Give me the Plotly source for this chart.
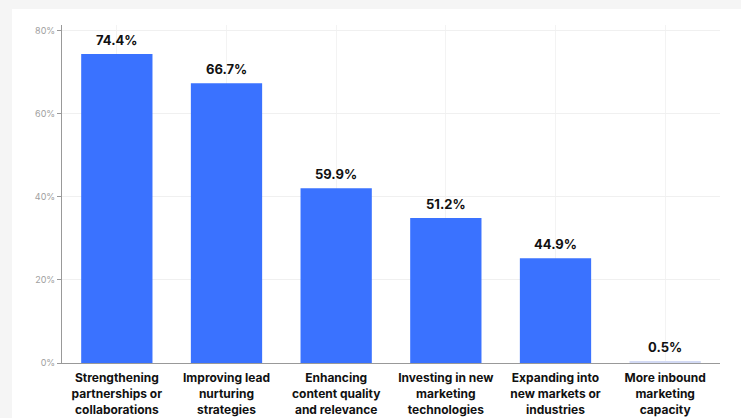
import plotly.graph_objects as go

categories = [
    "Strengthening<br>partnerships or<br>collaborations",
    "Improving lead<br>nurturing<br>strategies",
    "Enhancing<br>content quality<br>and relevance",
    "Investing in new<br>marketing<br>technologies",
    "Expanding into<br>new markets or<br>industries",
    "More inbound<br>marketing<br>capacity",
]
bar_values = [74.4, 67.4, 42.1, 34.9, 25.2, 0.5]
value_labels = ["74.4%", "66.7%", "59.9%", "51.2%", "44.9%", "0.5%"]
bar_colors = ["#3A72FF", "#3A72FF", "#3A72FF", "#3A72FF", "#3A72FF", "#D3DAF4"]
y_ticks = [0, 20, 40, 60, 80]
y_tick_labels = ["0%", "20%", "40%", "60%", "80%"]

W, H = 741, 418
ml, mr, mt, mb = 62, 21, 25, 55
pw, ph = W - ml - mr, H - mt - mb

fig = go.Figure()
fig.add_trace(go.Bar(
    x=categories, y=bar_values,
    marker=dict(color=bar_colors, line=dict(width=0)),
    hoverinfo="skip",
))

for c, v, t in zip(categories, bar_values, value_labels):
    fig.add_annotation(
        x=c, y=v, text="<b>" + t + "</b>", showarrow=False,
        yanchor="bottom", yshift=4,
        font=dict(family="Inter, Roboto, sans-serif", size=13, color="#111111"),
    )

# light grey page edges around the white card (left and top strips)
GREY = "#F5F5F5"
fig.add_shape(
    type="rect", xref="paper", yref="paper", layer="below",
    x0=(-5 - ml) / pw, x1=(12 - ml) / pw,
    y0=(H - mb - (H + 5)) / ph, y1=(H - mb + 5) / ph,
    fillcolor=GREY, line=dict(width=0),
)
fig.add_shape(
    type="rect", xref="paper", yref="paper", layer="below",
    x0=(-5 - ml) / pw, x1=(W + 5 - ml) / pw,
    y0=(H - mb - 9) / ph, y1=(H - mb + 5) / ph,
    fillcolor=GREY, line=dict(width=0),
)

fig.update_layout(
    width=W, height=H,
    margin=dict(l=ml, r=mr, t=mt, b=mb, autoexpand=False),
    paper_bgcolor="white",
    plot_bgcolor="rgba(0,0,0,0)",
    bargap=0.35,
    showlegend=False,
    font=dict(family="Inter, Roboto, sans-serif"),
)
fig.update_xaxes(
    automargin=False,
    showgrid=True, gridcolor="#F3F3F3", gridwidth=1,
    showline=True, linecolor="#999999", linewidth=1,
    ticks="", tickfont=dict(size=12, color="#111111", weight="bold"),
    ticklabelstandoff=4,
)
fig.update_yaxes(
    automargin=False,
    range=[0, 81.4],
    tickvals=y_ticks, ticktext=y_tick_labels,
    showgrid=True, gridcolor="#F0F0F0", gridwidth=1,
    showline=True, linecolor="#999999", linewidth=1,
    ticks="outside", ticklen=4, tickcolor="#999999",
    tickfont=dict(size=9, color="#A0A0A0"),
    zeroline=False,
)

fig.write_html(
    "out.html",
    config={"displayModeBar": False},
    post_script="document.body.style.margin='0';document.body.style.overflow='hidden';",
)
